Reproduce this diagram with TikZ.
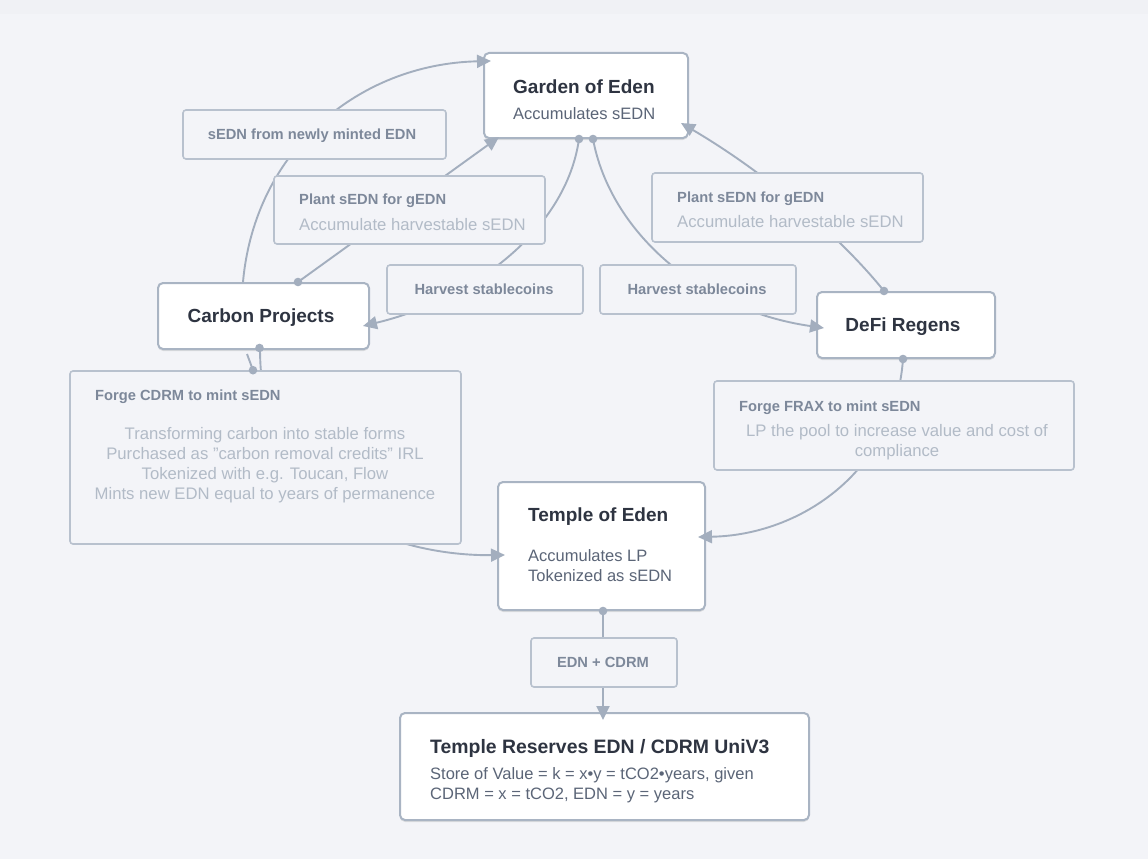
\documentclass[tikz,border=0pt]{standalone}
\usepackage{fontspec}
\setmainfont{Liberation Sans}
\usetikzlibrary{arrows.meta,calc,shadows}
\definecolor{pagebg}{HTML}{F3F4F8}
\definecolor{topbg}{HTML}{F0F1F5}
\definecolor{mainborder}{HTML}{A9B4C3}
\definecolor{lblborder}{HTML}{B8C1CE}
\definecolor{edgecol}{HTML}{A3AEBE}
\definecolor{titlecol}{HTML}{2E3441}
\definecolor{bodycol}{HTML}{5B6577}
\definecolor{lbltitle}{HTML}{7D889A}
\definecolor{lblsub}{HTML}{B2BBC7}
\newcommand\fsTitle{\fontsize{19}{23}\selectfont\bfseries}
\newcommand\fsBig{\fontsize{19.4}{24}\selectfont\bfseries}
\newcommand\fsBody{\fontsize{16.5}{20}\selectfont}
\newcommand\fsLbl{\fontsize{14.7}{18}\selectfont\bfseries}
\newcommand\fsSub{\fontsize{16.7}{20}\selectfont}
\pgfdeclarelayer{bgl}
\pgfdeclarelayer{fg}
\pgfsetlayers{bgl,main,fg}
\begin{document}
\begin{tikzpicture}[x=1pt,y=-1pt,
  mainbox/.style={draw=mainborder, line width=2pt, fill=white, rounded corners=5pt,
    inner sep=0pt, drop shadow={shadow xshift=0pt, shadow yshift=-2pt, opacity=0.10, fill=black}},
  lblbox/.style={draw=lblborder, line width=1.6pt, fill=pagebg, rounded corners=3pt, inner sep=0pt},
  edge/.style={draw=edgecol, line width=1.9pt},
  arr/.style={edge, -{Triangle[length=14pt,width=13pt]}},
  dot/.style={fill=edgecol, draw=none},
  ttl/.style={text=titlecol, inner sep=0pt, font=\fsTitle},
  body/.style={text=bodycol, inner sep=0pt, font=\fsBody},
  lt/.style={text=lbltitle, inner sep=0pt, font=\fsLbl},
  ls/.style={text=lblsub, inner sep=0pt, font=\fsSub}
]
\begin{pgfonlayer}{bgl}
\fill[pagebg] (0,0) rectangle (1148,859);
\fill[topbg] (0,0) rectangle (1148,14);
\end{pgfonlayer}
\useasboundingbox (0,0) rectangle (1148,859);

% main boxes
\node[mainbox, minimum width=204pt, minimum height=85pt] (garden) at (586,95.5) {};
\node[mainbox, minimum width=211pt, minimum height=66pt] (carbon) at (263.5,316) {};
\node[mainbox, minimum width=178pt, minimum height=66pt] (defi) at (906,325) {};
\node[mainbox, minimum width=207pt, minimum height=128pt] (temple) at (601.5,546) {};
\node[mainbox, minimum width=409pt, minimum height=107pt] (reserves) at (604.5,766.5) {};

\node[ttl, anchor=base west] (gardenT) at (513,93) {Garden of Eden};
\node[body, anchor=base west] (gardenB) at (513,119) {Accumulates sEDN};
\node[ttl, anchor=base] (carbonT) at (261,322) {Carbon Projects};
\node[ttl, anchor=base] (defiT) at (903,331) {DeFi Regens};
\node[ttl, anchor=base west] (templeT) at (528,521) {Temple of Eden};
\node[body, anchor=base west] (templeB1) at (528,561) {Accumulates LP};
\node[body, anchor=base west] (templeB2) at (528,581) {Tokenized as sEDN};
\node[ttl, font=\fsBig, anchor=base west] (resT) at (430,753) {Temple Reserves EDN / CDRM UniV3};
\node[body, anchor=base west] (resB1) at (430,779) {Store of Value = k = x•y = tCO2•years, given};
\node[body, anchor=base west] (resB2) at (430,799) {CDRM = x = tCO2, EDN = y = years};

% connectors
\draw[arr] ($(carbon.north)+(-20.5,0)$) .. controls +(12,-133) and +(-131,3) .. ($(garden.north west)+(8,9)$);
\draw[arr] ($(carbon.north)+(34.5,0)$) -- ($(garden.south west)+(16,-2)$);
\draw[arr] ($(carbon.south)+(-3.5,-2)$) .. controls +(0,180) and +(-86,1) .. ($(temple.west)+(8,9)$);
\draw[arr] ($(garden.south)+(-7,0)$) .. controls +(-13,92) and +(108,-26) .. ($(carbon.east)+(-7,10)$);
\draw[arr] ($(garden.south)+(7,0)$) .. controls +(17,92) and +(-125,-18) .. ($(defi.west)+(8,3)$);
\draw[arr] ($(defi.north)+(-22,0)$) .. controls +(-40,-50) and +(90,53) .. ($(garden.south east)+(-8,-16)$);
\draw[arr] ($(defi.south)+(-3,0)$) .. controls +(-8,112) and +(103,-2) .. ($(temple.east)+(-8,-9)$);
\draw[arr] ($(temple.south)+(1.5,0)$) -- ($(temple.south |- reserves.north)+(1.5,8)$);

% dots on main boxes
\fill[dot] ($(carbon.north)+(34.5,0)$) circle (4.3);
\fill[dot] ($(carbon.south)+(-4,-2)$) circle (4.3);
\fill[dot] ($(garden.south)+(-7,0)$) circle (4.3);
\fill[dot] ($(garden.south)+(7,0)$) circle (4.3);
\fill[dot] ($(defi.north)+(-22,0)$) circle (4.3);
\fill[dot] ($(defi.south)+(-3,0)$) circle (4.3);
\fill[dot] ($(temple.south)+(1.5,0)$) circle (4.3);

% labels
\begin{pgfonlayer}{fg}
\node[lblbox, minimum width=263pt, minimum height=49pt] (lblmint) at (314.5,134.5) {};
\node[lt, anchor=base] (lblmintT) at (312,139.5) {sEDN from newly minted EDN};

\node[lblbox, minimum width=271pt, minimum height=68pt] (lblplantL) at (409.5,210) {};
\node[lt, anchor=base west] (lblplantLT) at (299,204.5) {Plant sEDN for gEDN};
\node[ls, anchor=base west] (lblplantLS) at (299,230) {Accumulate harvestable sEDN};

\node[lblbox, minimum width=271pt, minimum height=69pt] (lblplantR) at (787.5,207.5) {};
\node[lt, anchor=base west] (lblplantRT) at (677,202.5) {Plant sEDN for gEDN};
\node[ls, anchor=base west] (lblplantRS) at (677,227) {Accumulate harvestable sEDN};

\node[lblbox, minimum width=196pt, minimum height=49pt] (lblharvL) at (485,289.5) {};
\node[lt, anchor=base] (lblharvLT) at (484,294.5) {Harvest stablecoins};

\node[lblbox, minimum width=196pt, minimum height=49pt] (lblharvR) at (698,289.5) {};
\node[lt, anchor=base] (lblharvRT) at (697,294.5) {Harvest stablecoins};

\node[lblbox, minimum width=391pt, minimum height=173pt] (lblforgeC) at (265.5,457.5) {};
\node[lt, anchor=base west] (lblforgeCT) at (95,400.5) {Forge CDRM to mint sEDN};
\node[ls, anchor=base] (lblforgeC1) at (265,439) {Transforming carbon into stable forms};
\node[ls, anchor=base] (lblforgeC2) at (265,459) {Purchased as "carbon removal credits" IRL};
\node[ls, anchor=base] (lblforgeC3) at (265,479) {Tokenized with e.g. Toucan, Flow};
\node[ls, anchor=base] (lblforgeC4) at (265,499) {Mints new EDN equal to years of permanence};

\node[lblbox, minimum width=360pt, minimum height=89pt] (lblforgeF) at (894,425.5) {};
\node[lt, anchor=base west] (lblforgeFT) at (739,411.5) {Forge FRAX to mint sEDN};
\node[ls, anchor=base] (lblforgeF1) at (897,436) {LP the pool to increase value and cost of};
\node[ls, anchor=base] (lblforgeF2) at (897,456) {compliance};

\node[lblbox, minimum width=146pt, minimum height=49pt] (lbledn) at (604,662.5) {};
\node[lt, anchor=base] (lblednT) at (603,667.5) {EDN + CDRM};

% small stub from the forge label to carbon projects
\draw[edge] ($(lblforgeC.north)+(-12.5,0)$) -- ($(carbon.south)+(-16.5,4)$);
\fill[dot] ($(lblforgeC.north)+(-12.5,0)$) circle (4.3);
\end{pgfonlayer}
\end{tikzpicture}
\end{document}
